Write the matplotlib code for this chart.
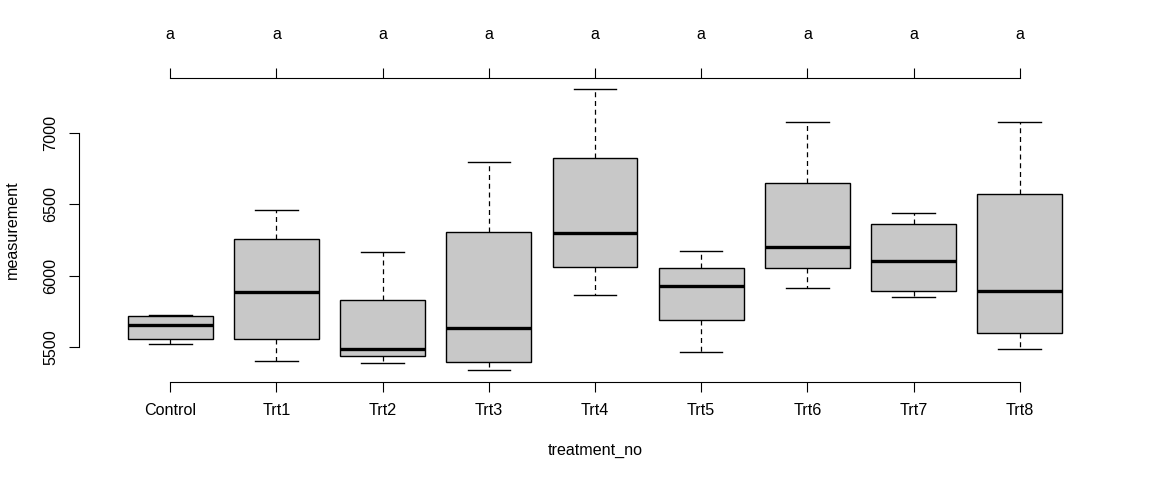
import matplotlib
matplotlib.use("Agg")
import matplotlib.pyplot as plt

plt.rcParams['font.family'] = ['Liberation Sans', 'DejaVu Sans']
plt.rcParams['font.size'] = 11.6

groups = ["Control", "Trt1", "Trt2", "Trt3", "Trt4", "Trt5", "Trt6", "Trt7", "Trt8"]
whisk_lo = [5522, 5401, 5387, 5338, 5865, 5464, 5911, 5853, 5485]
q1 = [5559, 5557, 5436, 5394, 6061, 5692, 6051, 5895, 5599]
median = [5655, 5883, 5487, 5632, 6301, 5930, 6203, 6105, 5893]
q3 = [5718, 6257, 5832, 6303, 6820, 6056, 6645, 6359, 6573]
whisk_hi = [5727, 6459, 6168, 6792, 7303, 6173, 7077, 6441, 7077]
letters = ["a"] * 9

stats = []
for i, g in enumerate(groups):
    stats.append(dict(label=g, whislo=whisk_lo[i], q1=q1[i], med=median[i],
                      q3=q3[i], whishi=whisk_hi[i], fliers=[]))

W, H = 1152, 480
fig = plt.figure(figsize=(W / 100, H / 100), dpi=100)
ax = fig.add_axes([79 / W, (H - 381.7) / H, (1111 - 79) / W, (381.7 - 78) / H])

pos = list(range(1, len(groups) + 1))
ax.bxp(stats, positions=pos, widths=0.8, patch_artist=True, showfliers=False,
       boxprops=dict(facecolor="#c8c8c8", edgecolor="black", linewidth=1.0),
       medianprops=dict(color="black", linewidth=2.4, solid_capstyle="butt"),
       whiskerprops=dict(color="black", linewidth=0.9, linestyle=(0, (4, 3))),
       capprops=dict(color="black", linewidth=1.0), capwidths=0.4)

lo, hi = min(whisk_lo), max(whisk_hi)
pad = (hi - lo) * 0.04
ax.set_ylim(lo - pad, hi + pad)
ax.set_xlim(0.5 - 0.36, 9.5 + 0.36)

for s in ["right", "top"]:
    ax.spines[s].set_visible(False)
ax.spines["left"].set_bounds(5500, 7000)
ax.spines["bottom"].set_bounds(1, 9)
ax.set_yticks([5500, 6000, 6500, 7000])
ax.set_yticklabels(["5500", "6000", "6500", "7000"], rotation=90, va="center")
ax.set_xticks(pos)
ax.set_xticklabels(groups)
ax.tick_params(direction="out", length=7.2, width=0.8, pad=8)
ax.tick_params(axis="y", pad=7.5)

sec = ax.secondary_xaxis("top")
sec.set_xticks(pos)
sec.set_xticklabels(letters)
sec.spines["top"].set_bounds(1, 9)
sec.tick_params(direction="out", length=7.2, width=0.8, pad=19)

fig.text(12.5 / W, 1 - 230 / H, "measurement", rotation=90, ha="center", va="center")
fig.text(595 / W, 1 - 451 / H, "treatment_no", ha="center", va="center")

fig.savefig("out.png", dpi=100)
